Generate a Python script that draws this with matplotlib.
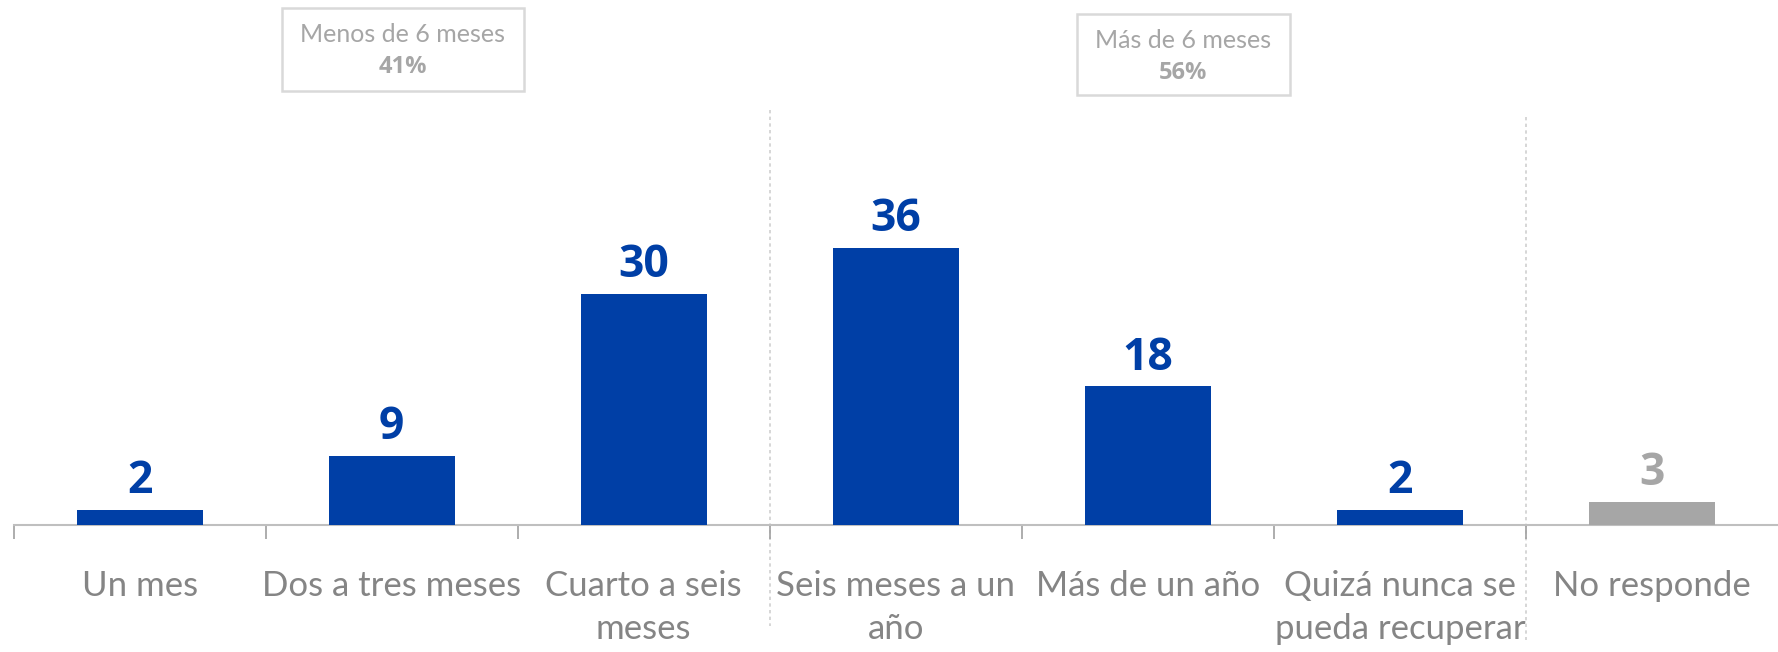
import matplotlib
matplotlib.use("Agg")
import matplotlib.pyplot as plt
import matplotlib.transforms as mtransforms
from matplotlib.patches import Rectangle

categories = ["Un mes", "Dos a tres meses", "Cuarto a seis\nmeses", "Seis meses a un\naño",
              "Más de un año", "Quizá nunca se\npueda recuperar", "No responde"]
values = [2, 9, 30, 36, 18, 2, 3]
bar_colors = ["#003FA6"] * 6 + ["#A6A6A6"]
label_colors = ["#003FA6"] * 6 + ["#A6A6A6"]
group_titles = ["Menos de 6 meses", "Más de 6 meses"]
group_values = ["41%", "56%"]

W, H = 1778, 652
fig = plt.figure(figsize=(W / 100, H / 100), dpi=100)
axis_y = 525
px_per_unit = 7.7
ymax = 50
ax_left = 13.6 / W
ax = fig.add_axes([ax_left, 1 - axis_y / H, 1 - ax_left, ymax * px_per_unit / H])

x = list(range(len(categories)))
ax.bar(x, values, width=0.5, color=bar_colors, zorder=3)
ax.set_xlim(-0.5, len(categories) - 0.5)
ax.set_ylim(0, ymax)

for xi, v, c in zip(x, values, label_colors):
    ax.annotate(str(v), (xi, v), xytext=(0, 12), textcoords="offset points",
                ha="center", va="baseline", fontsize=32, fontweight="bold",
                color=c, family="Open Sans")

for s in ["top", "right", "left"]:
    ax.spines[s].set_visible(False)
ax.spines["bottom"].set_color("#BFBFBF")
ax.spines["bottom"].set_linewidth(1.5)
ax.set_yticks([])
ax.set_xticks([i - 0.5 for i in range(len(categories))])
ax.set_xticklabels([])
ax.tick_params(axis="x", length=10, width=1.2, color="#A0A0A0", direction="out")

trans = mtransforms.blended_transform_factory(ax.transData, fig.transFigure)
for xi, cat in zip(x, categories):
    ax.text(xi, 1 - 570 / H, cat, transform=trans, ha="center", va="top",
            fontsize=25, color="#858585", family="Lato", fontweight="normal",
            linespacing=1.42)

# dotted separators
for xs, y0, y1 in [(2.5, 110, 626), (5.5, 117, 640)]:
    ax.plot([xs, xs], [1 - y0 / H, 1 - y1 / H], transform=trans, clip_on=False,
            color="#D0D0D0", lw=1.2, ls=(0, (2, 2)), zorder=1)

# group boxes
boxes = [(282, 8, 524, 91), (1077, 14, 1290, 95)]
for (x0, y0, x1, y1), t, g in zip(boxes, group_titles, group_values):
    fig.patches.append(Rectangle((x0 / W, 1 - y1 / H), (x1 - x0) / W, (y1 - y0) / H,
                                 transform=fig.transFigure, fill=False,
                                 edgecolor="#D9D9D9", lw=1.8))
    cx = (x0 + x1) / 2 / W
    fig.text(cx, 1 - (y0 + 27) / H, t, ha="center", va="center", fontsize=18,
             color="#A6A6A6", family="Lato", fontweight="normal")
    fig.text(cx, 1 - (y0 + 59) / H, g, ha="center", va="center", fontsize=17,
             color="#A6A6A6", family="Open Sans", fontweight="bold")

fig.savefig("out.png", dpi=100)
